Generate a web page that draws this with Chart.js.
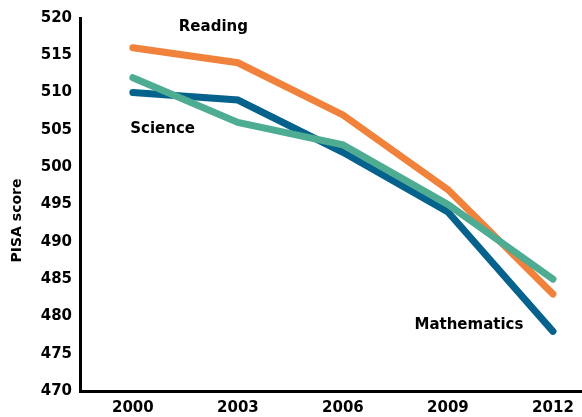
<!DOCTYPE html>
<html>
<head>
<meta charset="utf-8">
<script src="https://cdn.jsdelivr.net/npm/chart.js@4/dist/chart.umd.min.js"></script>
<style>
  html, body { margin: 0; padding: 0; background: #fff; }
  #wrap { width: 582px; height: 417px; }
</style>
</head>
<body>
<div id="wrap"><canvas id="pisaChart" width="582" height="417"></canvas></div>
<script>
// PISA scores (Sweden)
const years = [2000, 2003, 2006, 2009, 2012];
const reading = [516, 514, 507, 497, 483];
const mathematics = [510, 509, 502, 494, 478];
const science = [512, 506, 503, 495, 485];
const yTicks = [470, 475, 480, 485, 490, 495, 500, 505, 510, 515, 520];

// labels placed next to the lines, in data units
const lineLabels = [
  { text: 'Reading', x: 2002.3, y: 518.8 },
  { text: 'Science', x: 2000.85, y: 505.1 },
  { text: 'Mathematics', x: 2009.6, y: 478.8 }
];
const yTitle = 'PISA score';

const FONT = '"DejaVu Sans", sans-serif';

const toPoints = vals => vals.map((v, i) => ({ x: years[i], y: v }));

const labelPlugin = {
  id: 'lineLabels',
  afterDatasetsDraw(chart) {
    const { ctx, scales, chartArea } = chart;
    ctx.save();
    ctx.font = 'bold 15px ' + FONT;
    ctx.fillStyle = '#000';
    ctx.textAlign = 'center';
    ctx.textBaseline = 'middle';
    lineLabels.forEach(l => {
      ctx.fillText(l.text, scales.x.getPixelForValue(l.x), scales.y.getPixelForValue(l.y));
    });
    // y axis title, sits a bit below the middle in the original
    ctx.translate(17, (chartArea.top + chartArea.bottom) / 2 + 16);
    ctx.rotate(-Math.PI / 2);
    ctx.font = 'bold 14px ' + FONT;
    ctx.fillText(yTitle, 0, 0);
    ctx.restore();
  }
};

const line = (data, color) => ({
  data: toPoints(data),
  borderColor: color,
  borderWidth: 7,
  borderCapStyle: 'round',
  borderJoinStyle: 'miter',
  pointRadius: 0,
  tension: 0
});

new Chart(document.getElementById('pisaChart').getContext('2d'), {
  type: 'line',
  data: {
    datasets: [
      line(science, '#4DAC91'),
      line(reading, '#F0823B'),
      line(mathematics, '#04628C')
    ]
  },
  options: {
    responsive: false,
    animation: false,
    layout: { padding: { top: 18, right: 0, bottom: 0, left: 0 } },
    plugins: {
      legend: { display: false },
      tooltip: { enabled: false }
    },
    scales: {
      x: {
        type: 'linear',
        min: 1998.49,
        max: 2012.83,
        grid: { display: false, drawTicks: false },
        border: { display: true, color: '#000', width: 3 },
        afterBuildTicks: axis => { axis.ticks = years.map(v => ({ value: v })); },
        afterFit: axis => { axis.height = 26; },
        ticks: {
          color: '#000',
          padding: 8,
          font: { family: FONT, weight: 'bold', size: 15 },
          callback: v => String(v)
        }
      },
      y: {
        min: 470,
        max: 520,
        grid: { display: false, drawTicks: false },
        border: { display: true, color: '#000', width: 3 },
        afterBuildTicks: axis => { axis.ticks = yTicks.map(v => ({ value: v })); },
        afterFit: axis => { axis.width = 80; },
        ticks: {
          color: '#000',
          padding: 8,
          font: { family: FONT, weight: 'bold', size: 15 }
        }
      }
    }
  },
  plugins: [labelPlugin]
});
</script>
</body>
</html>
